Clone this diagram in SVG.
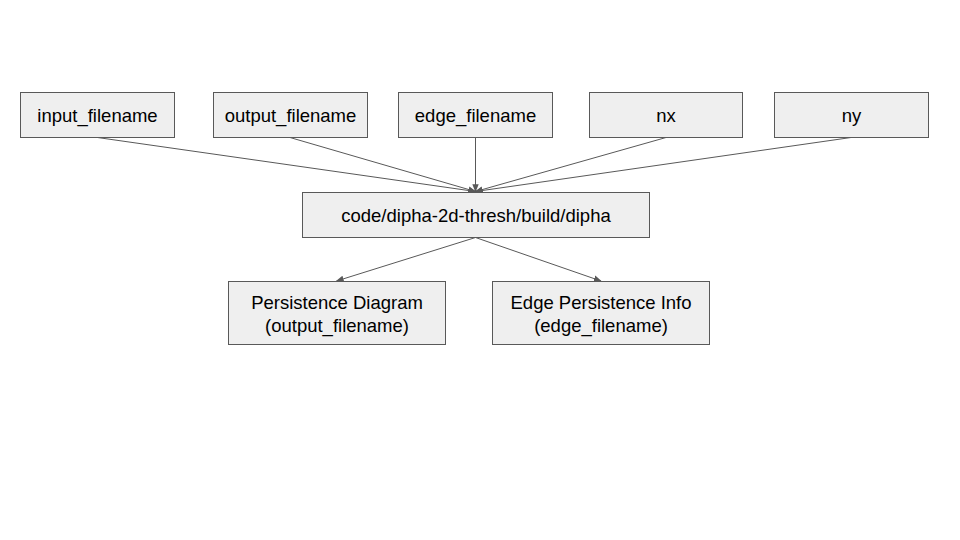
<svg xmlns="http://www.w3.org/2000/svg" width="960" height="540" viewBox="0 0 960 540">
<style>
.box{fill:#efefef;stroke:#595959;stroke-width:1}
.lbl{font-family:"Liberation Sans",Arial,sans-serif;font-size:18.5px;fill:#000;text-anchor:middle}
.con{stroke:#595959;stroke-width:1;fill:none;marker-end:url(#ah)}
</style>
<defs>
<marker id="ah" viewBox="0 0 10 10" refX="9" refY="5" markerWidth="8" markerHeight="8" markerUnits="userSpaceOnUse" orient="auto">
<path d="M0,1 L10,5 L0,9 Z" fill="#595959"/>
</marker>
</defs>
<rect width="960" height="540" fill="#fff"/>
<g id="connectors">
<line class="con" x1="97.5" y1="137.5" x2="475.5" y2="191.5"/>
<line class="con" x1="290" y1="137.5" x2="475.5" y2="191.5"/>
<line class="con" x1="475.5" y1="137.5" x2="475.5" y2="191.5"/>
<line class="con" x1="666" y1="137.5" x2="475.5" y2="191.5"/>
<line class="con" x1="851" y1="137.5" x2="475.5" y2="191.5"/>
<line class="con" x1="475.5" y1="237.5" x2="336.5" y2="281"/>
<line class="con" x1="475.5" y1="237.5" x2="601" y2="281"/>
</g>
<g id="input_filename">
<rect class="box" x="20.5" y="92.5" width="154" height="45"/>
<text class="lbl" x="97.5" y="121.5">input_filename</text>
</g>
<g id="output_filename">
<rect class="box" x="213.5" y="92.5" width="154" height="45"/>
<text class="lbl" x="290.5" y="121.5">output_filename</text>
</g>
<g id="edge_filename">
<rect class="box" x="398.5" y="92.5" width="154" height="45"/>
<text class="lbl" x="475.5" y="121.5">edge_filename</text>
</g>
<g id="nx">
<rect class="box" x="589.5" y="92.5" width="153" height="45"/>
<text class="lbl" x="666" y="121.5">nx</text>
</g>
<g id="ny">
<rect class="box" x="774.5" y="92.5" width="154" height="45"/>
<text class="lbl" x="851.5" y="121.5">ny</text>
</g>
<g id="dipha">
<rect class="box" x="302.5" y="192.5" width="347" height="45"/>
<text class="lbl" x="476" y="221.5">code/dipha-2d-thresh/build/dipha</text>
</g>
<g id="persistence_diagram">
<rect class="box" x="228.5" y="281.5" width="217" height="63"/>
<text class="lbl" x="337" y="308.5">Persistence Diagram</text>
<text class="lbl" x="337" y="331.5">(output_filename)</text>
</g>
<g id="edge_persistence_info">
<rect class="box" x="492.5" y="281.5" width="217" height="63"/>
<text class="lbl" x="601" y="308.5">Edge Persistence Info</text>
<text class="lbl" x="601" y="331.5">(edge_filename)</text>
</g>
</svg>
